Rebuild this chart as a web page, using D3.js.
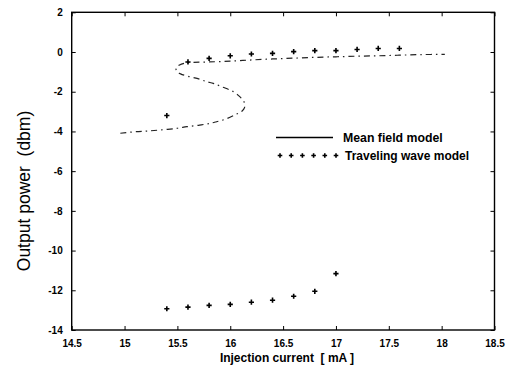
<!DOCTYPE html>
<html>
<head>
<meta charset="utf-8">
<script src="https://cdn.jsdelivr.net/npm/d3@7"></script>
<style>
  html, body { margin: 0; padding: 0; background: #fff; }
  svg { display: block; }
  text { font-family: "Liberation Sans", Arial, sans-serif; fill: #000; }
</style>
</head>
<body>
<svg id="chart" width="508" height="367"></svg>
<script>
// ---- data ----
const xTicks = [14.5, 15, 15.5, 16, 16.5, 17, 17.5, 18, 18.5];
const yTicks = [2, 0, -2, -4, -6, -8, -10, -12, -14];

// Mean field model (S-shaped curve, ordered along the curve)
const meanX = [14.96, 15.11, 15.21, 15.35, 15.5, 15.59, 15.71, 15.81, 15.87, 15.95, 16.05, 16.11, 16.135, 16.13, 16.09, 16.03, 15.92, 15.84, 15.78, 15.71, 15.6, 15.53, 15.49, 15.49, 15.52, 15.58, 15.65, 15.8, 16.0, 16.2, 16.4, 16.6, 16.8, 17.0, 17.2, 17.4, 17.6, 17.8, 18.03];
const meanY = [-4.09, -4.01, -3.98, -3.92, -3.84, -3.76, -3.68, -3.59, -3.51, -3.39, -3.15, -2.98, -2.8, -2.5, -2.25, -2.0, -1.75, -1.58, -1.5, -1.37, -1.22, -1.1, -0.95, -0.8, -0.65, -0.55, -0.52, -0.5, -0.46, -0.4, -0.35, -0.31, -0.27, -0.24, -0.21, -0.19, -0.16, -0.13, -0.12];

// Traveling wave model points
const travX = [15.4, 15.6, 15.8, 16.0, 16.2, 16.4, 16.6, 16.8, 17.0, 17.2, 17.4, 17.6,
               15.4, 15.6, 15.8, 16.0, 16.2, 16.4, 16.6, 16.8, 17.0];
const travY = [-3.2, -0.5, -0.32, -0.19, -0.1, -0.07, 0.02, 0.07, 0.07, 0.13, 0.18, 0.18,
               -12.93, -12.85, -12.76, -12.71, -12.6, -12.5, -12.3, -12.05, -11.16];

const legendLabels = ["Mean field model", "Traveling wave model"];
const xLabel = "Injection current  [ mA ]";
const yLabel = "Output power  (dbm)";

// ---- layout ----
const svg = d3.select("#chart");
const L = 71.7, R = 494.5, T = 12.3, B = 330;
const x = d3.scaleLinear().domain([14.5, 18.5]).range([L, R]);
const y = d3.scaleLinear().domain([-14, 2]).range([B, T]);

const tickFmt = d => String(d);

// axes with inward ticks
const gB = svg.append("g").attr("transform", `translate(0,${B})`)
  .call(d3.axisBottom(x).tickValues(xTicks).tickSize(-4).tickPadding(10).tickFormat(tickFmt));
const gT = svg.append("g").attr("transform", `translate(0,${T})`)
  .call(d3.axisTop(x).tickValues(xTicks).tickSize(-4).tickFormat(""));
const gL = svg.append("g").attr("transform", `translate(${L},0)`)
  .call(d3.axisLeft(y).tickValues(yTicks).tickSize(-4).tickPadding(9).tickFormat(tickFmt));
const gR = svg.append("g").attr("transform", `translate(${R},0)`)
  .call(d3.axisRight(y).tickValues(yTicks).tickSize(-4).tickFormat(""));

[gB, gT, gL, gR].forEach(g => {
  g.select(".domain").remove();
  g.selectAll(".tick line").attr("stroke", "#000").attr("stroke-width", 1);
  g.selectAll(".tick text").attr("font-size", 10).attr("font-weight", "bold")
    .attr("font-family", "Liberation Sans, Arial, sans-serif").attr("fill", "#000");
});

// frame
svg.append("rect").attr("x", L).attr("y", T).attr("width", R - L).attr("height", B - T)
  .attr("fill", "none").attr("stroke", "#000").attr("stroke-width", 1.4);

// mean field curve
const meanData = meanX.map((v, i) => [v, meanY[i]]);
const line = d3.line().x(d => x(d[0])).y(d => y(d[1])).curve(d3.curveCatmullRom);
svg.append("path").datum(meanData).attr("d", line)
  .attr("fill", "none").attr("stroke", "#222").attr("stroke-width", 1.2)
  .attr("stroke-dasharray", "6,4,1.5,4");

// traveling wave markers
const plus = (g, cx, cy, s) => {
  g.append("path").attr("d", `M${cx - s},${cy}H${cx + s}M${cx},${cy - s}V${cy + s}`)
    .attr("stroke", "#000").attr("stroke-width", 1.6).attr("fill", "none");
};
const gm = svg.append("g");
travX.forEach((v, i) => plus(gm, x(v), y(travY[i]), 2.6));

// legend
svg.append("line").attr("x1", 276).attr("x2", 333).attr("y1", 137.5).attr("y2", 137.5)
  .attr("stroke", "#000").attr("stroke-width", 1.3);
svg.append("text").attr("x", 343).attr("y", 141.5).attr("font-size", 12.3).attr("font-weight", "bold")
  .text(legendLabels[0]);
const lg = svg.append("g");
d3.range(6).forEach(i => plus(lg, 280 + i * 11.2, 155.5, 2.3));
svg.append("text").attr("x", 345).attr("y", 160).attr("font-size", 12).attr("font-weight", "bold")
  .text(legendLabels[1]);

// axis labels
svg.append("text").attr("x", 287).attr("y", 362).attr("text-anchor", "middle")
  .attr("font-size", 12).attr("font-weight", "bold").style("white-space", "pre")
  .text(xLabel);
svg.append("text").attr("transform", "translate(30,191) rotate(-90)").attr("text-anchor", "middle")
  .attr("font-size", 17.5).style("white-space", "pre")
  .text(yLabel);
</script>
</body>
</html>
